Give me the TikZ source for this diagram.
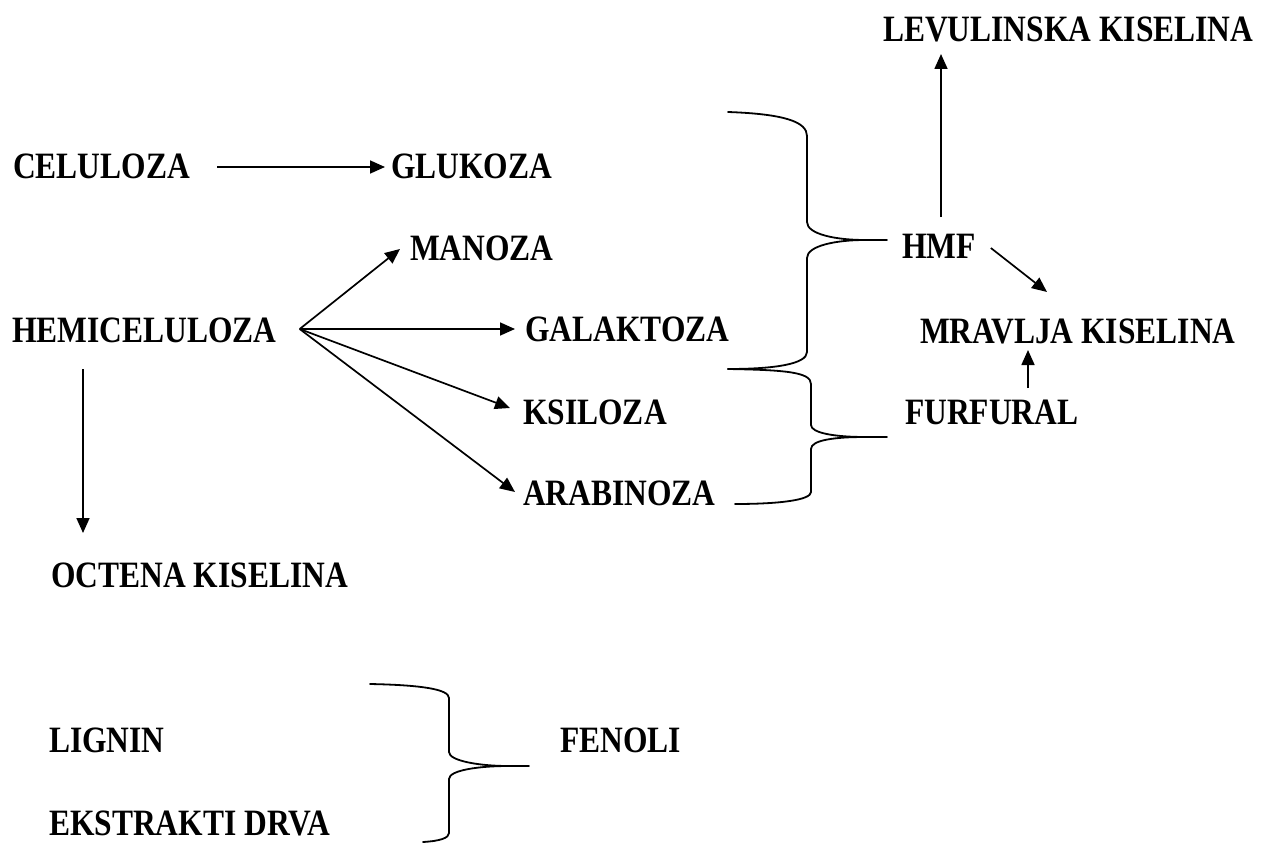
\documentclass[tikz,border=0pt]{standalone}
\usepackage{fontspec}
\setmainfont{Liberation Serif}
\usetikzlibrary{arrows.meta,calc}
\newcommand\tx[1]{\scalebox{1}[1.18]{#1}}
\tikzset{
  lbl/.style={font=\fontsize{31.5}{36}\selectfont\bfseries, inner sep=0pt, anchor=west, text height=24.5pt, text depth=0pt},
  arr/.style={line width=1.7pt, -{Triangle[length=15pt,width=13pt]}},
  brace/.style={line width=1.8pt, line cap=round, line join=round}
}
\begin{document}
\begin{tikzpicture}[x=1pt,y=-1pt]
\useasboundingbox (0,0) rectangle (1261,843);
% nodes
\node[lbl] (lev) at (883,29) {\tx{LEVULINSKA KISELINA}};
\node[lbl] (cel) at (13,166) {\tx{CELULOZA}};
\node[lbl] (glu) at (391,166) {\tx{GLUKOZA}};
\node[lbl] (man) at (410,248) {\tx{MANOZA}};
\node[lbl] (hem) at (12,330) {\tx{HEMICELULOZA}};
\node[lbl] (gal) at (525,329) {\tx{GALAKTOZA}};
\node[lbl] (ksi) at (523,412) {\tx{KSILOZA}};
\node[lbl] (ara) at (523,493) {\tx{ARABINOZA}};
\node[lbl] (oct) at (51,575) {\tx{OCTENA KISELINA}};
\node[lbl] (hmf) at (902,246) {\tx{HMF}};
\node[lbl] (mra) at (920,331) {\tx{MRAVLJA KISELINA}};
\node[lbl] (fur) at (905,412) {\tx{FURFURAL}};
\node[lbl] (lig) at (49,740) {\tx{LIGNIN}};
\node[lbl] (fen) at (560,740) {\tx{FENOLI}};
\node[lbl] (eks) at (49,823) {\tx{EKSTRAKTI DRVA}};
% arrows
\draw[arr] ($(cel.east)+(27,1)$) -- ($(glu.west)+(-6,1)$);
\coordinate (fan) at ($(hem.east)+(23,-1)$);
\draw[arr] (fan) -- ($(man.west)+(-10,1)$);
\draw[arr] (fan) -- ($(gal.west)+(-10,0)$);
\draw[arr] (fan) -- ($(ksi.west)+(-13,-4)$);
\draw[arr] (fan) -- ($(ara.west)+(-8,-1)$);
\draw[arr] ($(hem.west)+(71,39)$) -- ($(oct.west)+(32,-42)$);
\draw[arr] ($(hmf.west)+(39,-29)$) -- ($(lev.west)+(58,25)$);
\draw[arr] ($(hmf.east)+(15,2)$) -- ($(mra.west)+(127,-39)$);
\draw[arr] ($(fur.west)+(123,-24)$) -- ($(mra.west)+(108,19)$);
% brace 1 (glukoza..galaktoza -> HMF)
\coordinate (b1t) at (728,112);
\coordinate (b1p) at (887,240);
\coordinate (b1b) at (728,369);
\draw[brace] (b1t) .. controls (785,114) and (807,122) .. (807,136)
  -- (807,222) .. controls (807,234) and (835,240) .. (865,240) -- (b1p);
\draw[brace] (865,240) .. controls (835,240) and (807,246) .. (807,258)
  -- (807,352) .. controls (807,364) and (775,369) .. (b1b);
% brace 2 (galaktoza..arabinoza -> FURFURAL)
\coordinate (b2p) at (887,437);
\coordinate (b2b) at (735,504);
\draw[brace] (b1b) .. controls (785,370) and (811,372) .. (811,384)
  -- (811,425) .. controls (811,433) and (835,437) .. (865,437) -- (b2p);
\draw[brace] (865,437) .. controls (835,437) and (811,440) .. (811,449)
  -- (811,492) .. controls (811,500) and (780,504) .. (b2b);
% brace 3 (lignin, ekstrakti -> FENOLI)
\coordinate (b3t) at (370,684);
\coordinate (b3p) at (529,766);
\coordinate (b3b) at (423,842);
\draw[brace] (b3t) .. controls (420,685) and (449,689) .. (449,698)
  -- (449,752) .. controls (449,761) and (480,766) .. (508,766) -- (b3p);
\draw[brace] (508,766) .. controls (480,766) and (449,770) .. (449,779)
  -- (449,833) .. controls (449,838) and (440,841) .. (b3b);
\end{tikzpicture}
\end{document}
